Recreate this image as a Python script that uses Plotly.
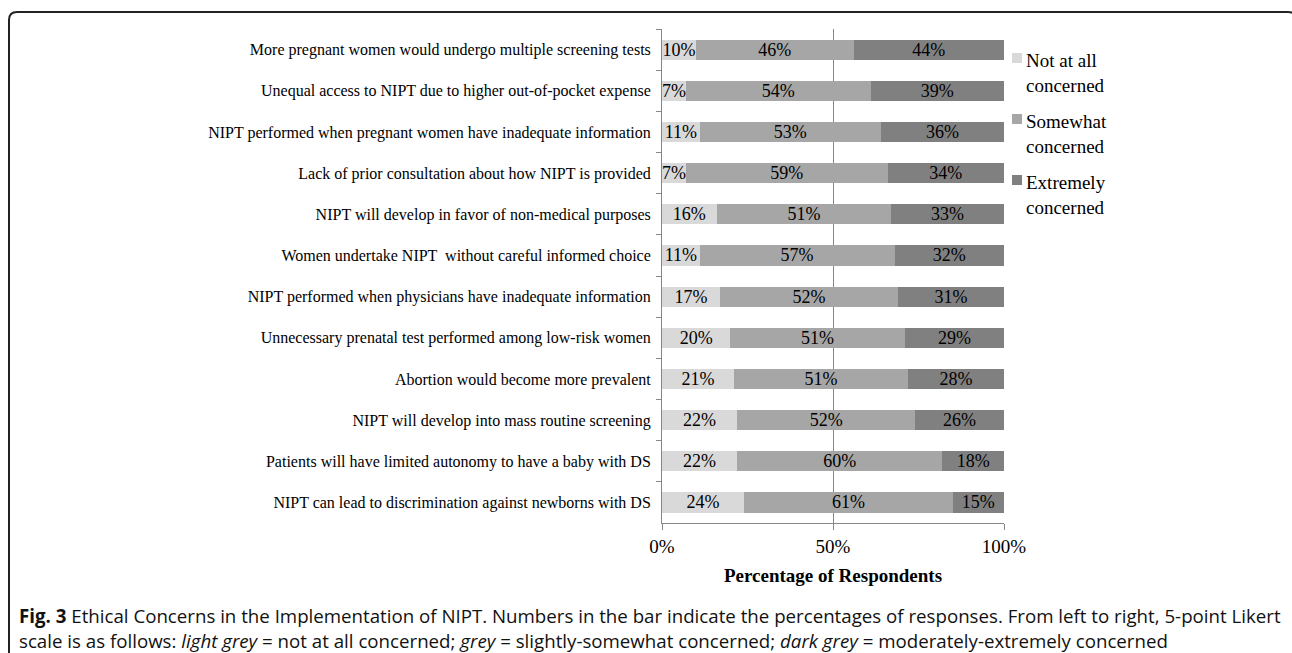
import plotly.graph_objects as go

categories = [
    "More pregnant women would undergo multiple screening tests",
    "Unequal access to NIPT due to higher out-of-pocket expense",
    "NIPT performed when pregnant women have inadequate information",
    "Lack of prior consultation about how NIPT is provided",
    "NIPT will develop in favor of non-medical purposes",
    "Women undertake NIPT  without careful informed choice",
    "NIPT performed when physicians have inadequate information",
    "Unnecessary prenatal test performed among low-risk women",
    "Abortion would become more prevalent",
    "NIPT will develop into mass routine screening",
    "Patients will have limited autonomy to have a baby with DS",
    "NIPT can lead to discrimination against newborns with DS",
]
not_at_all = [10, 7, 11, 7, 16, 11, 17, 20, 21, 22, 22, 24]
somewhat = [46, 54, 53, 59, 51, 57, 52, 51, 51, 52, 60, 61]
extremely = [44, 39, 36, 34, 33, 32, 31, 29, 28, 26, 18, 15]
series_names = ["Not at all<br>concerned", "Somewhat<br>concerned", "Extremely<br>concerned"]
colors = ["#d9d9d9", "#a6a6a6", "#808080"]

W, H = 1292, 653
# plot area in screen pixels
SX0, SX1, SY0, SY1 = 662, 1004, 29, 523
L, R, T, B = SX0, W - SX1, SY0, H - SY1
pw, ph = W - L - R, H - T - B

def px(x):
    return (x - L) / pw

def py(y):
    return (H - B - y) / ph

SERIF = "Liberation Serif, Times New Roman, serif"

fig = go.Figure()
for name, vals, col in zip(series_names, [not_at_all, somewhat, extremely], colors):
    fig.add_trace(go.Bar(
        y=categories, x=[v / 100 for v in vals], name=name, orientation="h",
        marker=dict(color=col, line=dict(width=0)),
        text=[f"{v}%" for v in vals], textposition="inside", insidetextanchor="middle",
        textfont=dict(family=SERIF, size=18, color="#000000"),
        hoverinfo="skip", cliponaxis=False, showlegend=False,
    ))

fig.update_layout(
    barmode="stack", bargap=0.51,
    width=W, height=H,
    margin=dict(l=L, r=R, t=T, b=B, pad=0),
    paper_bgcolor="white", plot_bgcolor="white",
    font=dict(family=SERIF, size=16, color="#000000"),
    uniformtext=dict(minsize=18, mode="show"),
    showlegend=False,
    xaxis=dict(range=[0, 1], tickvals=[0, 0.5, 1], ticktext=["0%", "50%", "100%"],
               showgrid=True, gridcolor="#868686", gridwidth=1,
               showline=True, linecolor="#868686", linewidth=1,
               ticks="outside", ticklen=6, tickcolor="#868686",
               tickfont=dict(family=SERIF, size=19), zeroline=False,
               title=dict(text="<b>Percentage of Respondents</b>",
                          font=dict(family=SERIF, size=19), standoff=12)),
    yaxis=dict(autorange="reversed", showline=True, linecolor="#868686", linewidth=1,
               ticks="outside", ticklen=5, tickcolor="#868686", tickson="boundaries",
               tickfont=dict(family=SERIF, size=16), showgrid=False, ticklabelstandoff=7),
)

# legend drawn manually: square + two-line label per series
leg_top = [53, 114, 175]
for name, col, top in zip(series_names, colors, leg_top):
    fig.add_shape(type="rect", xref="paper", yref="paper",
                  x0=px(1012), x1=px(1022), y0=py(top), y1=py(top + 10),
                  fillcolor=col, line=dict(width=0))
    fig.add_annotation(x=px(1024), y=py(top - 5), xref="paper", yref="paper",
                       xanchor="left", yanchor="top", align="left", showarrow=False,
                       text=name, font=dict(family=SERIF, size=19, color="#000000"))

# rounded border frame
x0, x1, y0, y1, r = px(9), px(1296), py(12), py(720), 8
rx, ry = r / pw, r / ph
path = (f"M {x0},{y1} L {x0},{y0 - ry} Q {x0},{y0} {x0 + rx},{y0} "
        f"L {x1 - rx},{y0} Q {x1},{y0} {x1},{y0 - ry} L {x1},{y1}")
fig.add_shape(type="path", path=path, xref="paper", yref="paper",
              line=dict(color="#222222", width=2), layer="above")

CAP = "Open Sans, Noto Sans, sans-serif"
fig.add_annotation(
    x=px(17), y=py(615), xref="paper", yref="paper", xanchor="left", yanchor="middle",
    showarrow=False, font=dict(family=CAP, size=18.7, color="#111111"),
    text=("<b>Fig. 3</b> Ethical Concerns in the Implementation of NIPT. Numbers in the bar indicate "
          "the percentages of responses. From left to right, 5-point Likert"))
fig.add_annotation(
    x=px(17), y=py(640), xref="paper", yref="paper", xanchor="left", yanchor="middle",
    showarrow=False, font=dict(family=CAP, size=18.7, color="#111111"),
    text=("scale is as follows: <i>light grey</i> = not at all concerned; <i>grey</i> = "
          "slightly-somewhat concerned; <i>dark grey</i> = moderately-extremely concerned"))

fig.write_html("out.html", config={"displayModeBar": False},
               post_script="document.body.style.margin='0';document.body.style.overflow='hidden';")
